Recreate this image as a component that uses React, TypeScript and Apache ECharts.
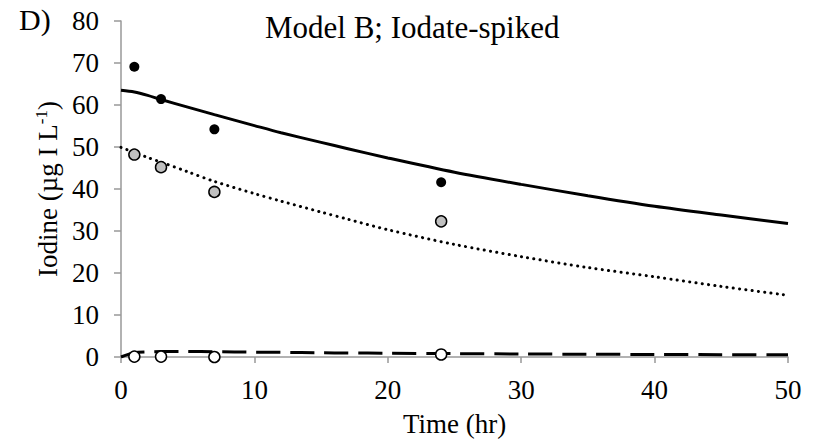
import React, { useEffect, useRef } from "react";
import * as echarts from "echarts";

const obsTime = [1, 3, 7, 24];
const totalObs = [69.1, 61.4, 54.2, 41.6];
const iodateObs = [48.2, 45.2, 39.3, 32.3];
const iodideObs = [0.1, 0.1, 0.0, 0.6];

const modelTime = [0, 1, 2, 3, 5, 7, 10, 12, 15, 17, 20, 25, 30, 35, 40, 45, 50];
const totalModel = [63.5, 63.1, 62.3, 61.3, 59.5, 57.7, 55.1, 53.4, 51.1, 49.6, 47.4, 44.0, 41.1, 38.4, 35.9, 33.8, 31.8];
const iodateModel = [49.9, 48.7, 47.5, 46.4, 44.1, 41.8, 38.9, 37.1, 34.5, 32.8, 30.3, 26.8, 23.9, 21.3, 19.1, 16.8, 14.7];
const iodideModel = [0.0, 1.0, 1.2, 1.3, 1.3, 1.25, 1.15, 1.1, 1.0, 0.95, 0.9, 0.8, 0.72, 0.66, 0.6, 0.56, 0.52];

const xTicks = [0, 10, 20, 30, 40, 50];
const yTicks = [0, 10, 20, 30, 40, 50, 60, 70, 80];

const FONT = "Liberation Serif";
const AXIS_COLOR = "#999999";

const pair = (xs: number[], ys: number[]) => xs.map((x, i) => [x, ys[i]]);

export default function App() {
  const ref = useRef<HTMLDivElement>(null);
  useEffect(() => {
    if (!ref.current) return;
    const chart = echarts.init(ref.current, null, { renderer: "svg" });
    chart.setOption({
      animation: false,
      backgroundColor: "#ffffff",
      textStyle: { fontFamily: FONT, color: "#000" },
      grid: { left: 121, right: 28, top: 21, bottom: 87, containLabel: false },
      graphic: [
        {
          type: "text",
          left: 19,
          top: 4,
          style: { text: "D)", font: `30px '${FONT}'`, fill: "#000" },
        },
        {
          type: "text",
          left: 265,
          top: 12,
          style: { text: "Model B; Iodate-spiked", font: `31px '${FONT}'`, fill: "#000" },
        },
      ],
      xAxis: {
        type: "value",
        min: xTicks[0],
        max: xTicks[xTicks.length - 1],
        interval: 10,
        name: "Time (hr)",
        nameLocation: "middle",
        nameGap: 53,
        nameTextStyle: { fontSize: 27, fontFamily: FONT, color: "#000" },
        axisLine: { show: true, lineStyle: { color: AXIS_COLOR, width: 1.5 } },
        axisTick: { show: true, inside: false, length: 6, lineStyle: { color: AXIS_COLOR, width: 1.5 } },
        axisLabel: { fontSize: 27, fontFamily: FONT, color: "#000", margin: 19 },
        splitLine: { show: false },
      },
      yAxis: {
        type: "value",
        min: yTicks[0],
        max: yTicks[yTicks.length - 1],
        interval: 10,
        name: "{a|Iodine (µg I L}{b|-1}{a|)}",
        nameLocation: "middle",
        nameGap: 57,
        nameRotate: 90,
        nameTextStyle: {
          fontFamily: FONT,
          color: "#000",
          rich: {
            a: { fontSize: 27, fontFamily: FONT, color: "#000", lineHeight: 30 },
            b: { fontSize: 17, fontFamily: FONT, color: "#000", verticalAlign: "top", lineHeight: 30 },
          },
        },
        axisLine: { show: true, lineStyle: { color: AXIS_COLOR, width: 1.5 } },
        axisTick: { show: true, inside: false, length: 7, lineStyle: { color: AXIS_COLOR, width: 1.5 } },
        axisLabel: { fontSize: 27, fontFamily: FONT, color: "#000", margin: 22 },
        splitLine: { show: false },
      },
      series: [
        {
          type: "line",
          data: pair(modelTime, totalModel),
          smooth: 0.3,
          showSymbol: false,
          lineStyle: { color: "#000", width: 3 },
          z: 2,
        },
        {
          type: "line",
          data: pair(modelTime, iodateModel),
          smooth: 0.3,
          showSymbol: false,
          lineStyle: { color: "#000", width: 3, type: [0.1, 6.2], cap: "round" },
          z: 2,
        },
        {
          type: "line",
          data: pair(modelTime, iodideModel),
          smooth: 0.3,
          showSymbol: false,
          lineStyle: { color: "#000", width: 3, type: [24, 10] },
          z: 2,
        },
        {
          type: "scatter",
          data: pair(obsTime, totalObs),
          symbol: "circle",
          symbolSize: 10,
          itemStyle: { color: "#000", borderColor: "#000", borderWidth: 0, opacity: 1 },
          z: 3,
        },
        {
          type: "scatter",
          data: pair(obsTime, iodateObs),
          symbol: "circle",
          symbolSize: 11,
          itemStyle: { color: "#c0c0c0", borderColor: "#000", borderWidth: 1.5, opacity: 1 },
          z: 3,
        },
        {
          type: "scatter",
          data: pair(obsTime, iodideObs),
          symbol: "circle",
          symbolSize: 11,
          itemStyle: { color: "#fff", borderColor: "#000", borderWidth: 1.5, opacity: 1 },
          z: 3,
        },
      ],
    });
    return () => chart.dispose();
  }, []);
  return (
    <div
      ref={ref}
      style={{ position: "fixed", left: 0, top: 0, width: 816, height: 444, background: "#fff" }}
    />
  );
}
